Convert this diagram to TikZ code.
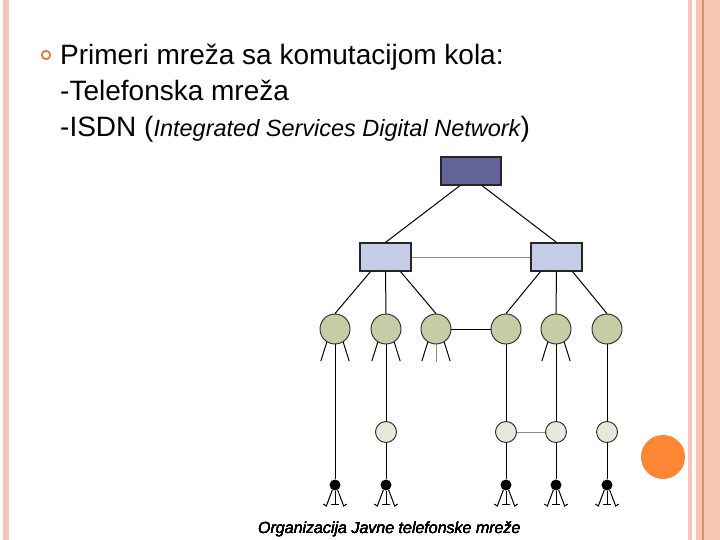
\documentclass[tikz,border=0pt]{standalone}
\usepackage{fontspec}
\setmainfont{Liberation Sans}
\definecolor{salmon}{HTML}{F8C6B4}
\definecolor{salmondk}{HTML}{E38B68}
\definecolor{orng}{HTML}{FC8633}
\definecolor{bulletc}{HTML}{E07B3E}
\definecolor{topbox}{HTML}{63639A}
\definecolor{midbox}{HTML}{C5CCE5}
\definecolor{bigc}{HTML}{C7CCA7}
\definecolor{smallc}{HTML}{E7E8DA}
\definecolor{grayln}{HTML}{8A8A8A}
\newcommand\phonelegs[1]{%
  \draw[link] (#1.-118) -- ++(-6,16) -- ++(-3,-2);
  \draw[link] (#1.south) -- ++(0,14) ++(-4,0) -- ++(8,0);
  \draw[link] (#1.-62) -- ++(6,16) -- ++(3,-2);}
\newcommand\fanlegs[1]{%
  \draw[link] (#1.-122) -- ++(-6,19);
  \draw[link] (#1.-58) -- ++(6,19);}
\begin{document}
\begin{tikzpicture}[x=1pt,y=-1pt,
  link/.style={line width=1pt,black},
  glink/.style={line width=0.9pt,grayln},
  topsw/.style={draw=black!85,line width=1.2pt,fill=topbox,minimum width=60pt,minimum height=28pt,inner sep=0pt},
  midsw/.style={draw=black!85,line width=1.2pt,fill=midbox,minimum width=51pt,minimum height=28pt,inner sep=0pt},
  bigsw/.style={circle,draw=black!85,line width=0.9pt,fill=bigc,minimum size=30pt,inner sep=0pt},
  smallsw/.style={circle,draw=black!85,line width=0.9pt,fill=smallc,minimum size=21pt,inner sep=0pt},
  phonedot/.style={circle,fill=black,minimum size=11pt,inner sep=0pt},
  bodytext/.style={anchor=base west,inner sep=0pt,font=\fontsize{28}{34}\selectfont}]
\useasboundingbox (0,0) rectangle (720,540);
\fill[white] (0,0) rectangle (720,540);
% border decoration
\fill[salmon] (3,0) rectangle (9,540);
\fill[salmon] (688,0) rectangle (692,540);
\fill[salmon] (696,0) rectangle (720,540);
\fill[salmondk] (702,0) rectangle (703.5,540);
\fill[orng] (663,457) circle (22);
% text
\draw[bulletc,line width=1.8pt] (46,55) circle (4.2);
\node[bodytext] (t1) at (60,65) {Primeri mreža sa komutacijom kola:};
\node[bodytext] (t2) at (60,101) {-Telefonska mreža};
\node[bodytext] (t3) at (60,137) {-ISDN ({\fontsize{23.5}{28}\selectfont\itshape Integrated Services Digital Network})};
% nodes
\node[topsw] (top) at (471,171) {};
\node[midsw] (L) at (385.5,257) {};
\node[midsw] (R) at (556.5,257) {};
\foreach \n/\x in {1/335,2/386,3/436,4/506,5/556,6/607}
  \node[bigsw] (c\n) at (\x,329) {};
\foreach \n/\x in {2/386,4/506,5/556,6/607}
  \node[smallsw] (s\n) at (\x,432) {};
\foreach \n/\x in {1/335,2/386,4/506,5/556,6/607}
  \node[phonedot] (p\n) at (\x,485) {};
% connectors
\draw[link] ([xshift=-11pt]top.south) -- (L.north);
\draw[link] ([xshift=11pt]top.south) -- (R.north);
\draw[glink] (L.east) -- (R.west);
\draw[link] ([xshift=-15pt]L.south) -- (c1.north);
\draw[link] (L.south) -- (c2.north);
\draw[link] ([xshift=15pt]L.south) -- (c3.north);
\draw[link] ([xshift=-16pt]R.south) -- (c4.north);
\draw[link] (R.south) -- (c5.north);
\draw[link] ([xshift=16pt]R.south) -- (c6.north);
\draw[link] (c3.east) -- (c4.west);
\fanlegs{c1}\fanlegs{c2}\fanlegs{c3}\fanlegs{c5}
\coordinate (c3end) at (436,362);
\draw[glink] (c3.south) -- (c3end);
\draw[link] (c1.south) -- (p1);
\draw[link] (c2.south) -- (s2.north);
\draw[link] (c4.south) -- (s4.north);
\draw[link] (c5.south) -- (s5.north);
\draw[link] (c6.south) -- (s6.north);
\draw[glink] (s4.east) -- (s5.west);
\foreach \n in {2,4,5,6} \draw[link] (s\n.south) -- (p\n);
\foreach \n in {1,2,4,5,6} \phonelegs{p\n}
\node[anchor=base west,inner sep=0pt,font=\fontsize{16}{19}\selectfont\itshape] (cap) at (258,533) {Organizacija Javne telefonske mreže};
\end{tikzpicture}
\end{document}
